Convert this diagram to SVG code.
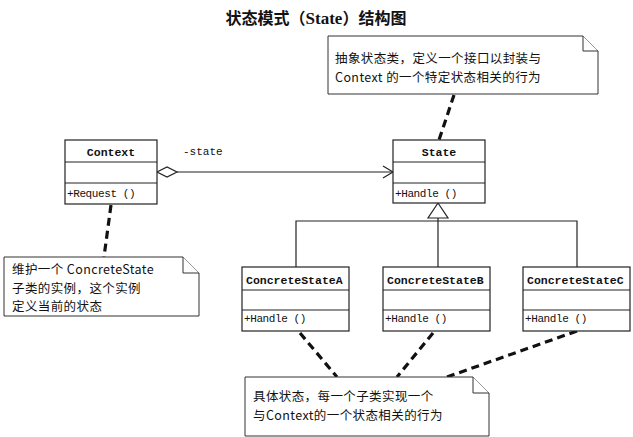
<svg xmlns="http://www.w3.org/2000/svg" width="633" height="437" viewBox="0 0 633 437">
<style>
.box{fill:#fff;stroke:#222;stroke-width:1.2}
.sep{stroke:#222;stroke-width:1.2}
.hdr{font-family:"Liberation Mono",monospace;font-weight:bold;font-size:11.5px;fill:#111}
.op{font-family:"Liberation Mono",monospace;font-size:11px;fill:#111;letter-spacing:-0.4px}
.note{fill:#fff;stroke:#333;stroke-width:1}
.nt{font-family:"Noto Sans CJK SC","Liberation Sans",sans-serif;font-size:12.5px;fill:#111;letter-spacing:0.4px}
.dash{fill:none;stroke:#111;stroke-width:3.2;stroke-dasharray:8 5}
.ln{fill:none;stroke:#222;stroke-width:1.2}
</style>
<rect width="633" height="437" fill="#fff"/>
<text x="316" y="24" text-anchor="middle" font-family="Noto Sans CJK SC, sans-serif" font-weight="bold" font-size="16" fill="#111">状态模式（<tspan font-family="Liberation Serif, serif" font-size="17">State</tspan>）结构图</text>

<g id="connectors">
  <path class="dash" d="M454,95 L439,140"/>
  <path class="dash" d="M111,205 L104,257"/>
  <path class="dash" d="M300,333 L337,377"/>
  <path class="dash" d="M433,333 L397,377"/>
  <path class="dash" d="M577,331 L447,377"/>
  <path class="ln" d="M177,172 H393"/>
  <path class="ln" d="M383,166 L393,172 L383,178"/>
  <path d="M157,172 L167,167 L177,172 L167,177 Z" fill="#fff" stroke="#222" stroke-width="1.2"/>
  <text x="183" y="155" font-family="Liberation Mono, monospace" font-size="11" fill="#111">-state</text>
  <path class="ln" d="M438,218 V221 M296,267 V221 H577 V267 M438,221 V267"/>
  <path d="M438,203 L448,218 L428,218 Z" fill="#fff" stroke="#222" stroke-width="1.2"/>
</g>

<g id="note-state">
  <path class="note" d="M328,36 H583 L598,51 V94 H328 Z"/>
  <path class="note" d="M583,36 V51 H598" fill="none"/>
  <text class="nt" x="335" y="63">抽象状态类，定义一个接口以封装与</text>
  <text class="nt" x="335" y="81.5">Context 的一个特定状态相关的行为</text>
</g>

<g id="context">
  <rect class="box" x="65" y="140" width="92" height="64"/>
  <line class="sep" x1="65" y1="162" x2="157" y2="162"/>
  <line class="sep" x1="65" y1="183" x2="157" y2="183"/>
  <text class="hdr" x="111" y="156" text-anchor="middle">Context</text>
  <text class="op" x="67" y="197">+Request ()</text>
</g>

<g id="state">
  <rect class="box" x="393" y="140" width="92" height="63"/>
  <line class="sep" x1="393" y1="162" x2="485" y2="162"/>
  <line class="sep" x1="393" y1="183" x2="485" y2="183"/>
  <text class="hdr" x="439" y="156" text-anchor="middle">State</text>
  <text class="op" x="395" y="197">+Handle ()</text>
</g>

<g id="note-context">
  <path class="note" d="M4,257 H183 L199,273 V316 H4 Z"/>
  <path class="note" d="M183,257 V273 H199" fill="none"/>
  <text class="nt" x="12" y="274">维护一个 ConcreteState</text>
  <text class="nt" x="12" y="292.5">子类的实例，这个实例</text>
  <text class="nt" x="12" y="311">定义当前的状态</text>
</g>

<g id="concrete-a">
  <rect class="box" x="242" y="267" width="107" height="64"/>
  <line class="sep" x1="242" y1="290" x2="349" y2="290"/>
  <line class="sep" x1="242" y1="310" x2="349" y2="310"/>
  <text class="hdr" x="246" y="284">ConcreteStateA</text>
  <text class="op" x="244" y="322">+Handle ()</text>
</g>

<g id="concrete-b">
  <rect class="box" x="383" y="267" width="107" height="64"/>
  <line class="sep" x1="383" y1="290" x2="490" y2="290"/>
  <line class="sep" x1="383" y1="310" x2="490" y2="310"/>
  <text class="hdr" x="387" y="284">ConcreteStateB</text>
  <text class="op" x="385" y="322">+Handle ()</text>
</g>

<g id="concrete-c">
  <rect class="box" x="523" y="267" width="107" height="64"/>
  <line class="sep" x1="523" y1="290" x2="630" y2="290"/>
  <line class="sep" x1="523" y1="310" x2="630" y2="310"/>
  <text class="hdr" x="527" y="284">ConcreteStateC</text>
  <text class="op" x="525" y="322">+Handle ()</text>
</g>

<g id="note-concrete">
  <path class="note" d="M245,377 H473 L489,393 V436 H245 Z"/>
  <path class="note" d="M473,377 V393 H489" fill="none"/>
  <text class="nt" x="253" y="401">具体状态，每一个子类实现一个</text>
  <text class="nt" x="253" y="419.5">与Context的一个状态相关的行为</text>
</g>
</svg>
